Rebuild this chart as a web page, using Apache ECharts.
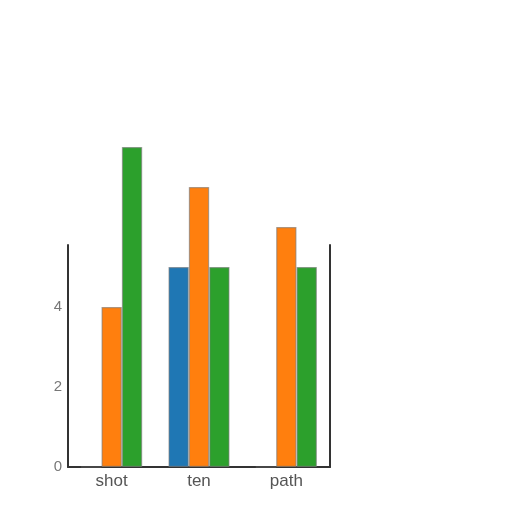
<!DOCTYPE html>
<html><head><meta charset="utf-8">
<script src="https://cdn.jsdelivr.net/npm/echarts@6/dist/echarts.min.js"></script>
<style>html,body{margin:0;padding:0;background:#fff}#c{width:512px;height:512px}</style>
</head><body><div id="c"></div>
<script>
var categories = ['shot', 'ten', 'path'];
var blueValues = [0, 5, 0];
var orangeValues = [4, 7, 6];
var greenValues = [8, 5, 5];
var yTicks = [0, 2, 4];

var chart = echarts.init(document.getElementById('c'));
function bar(name, data, color) {
  return {
    name: name, type: 'bar', data: data, clip: false,
    barGap: '0%', barCategoryGap: '30%',
    itemStyle: { color: color, borderColor: 'rgba(120,120,120,0.6)', borderWidth: 1.2 }
  };
}
chart.setOption({
  animation: false,
  grid: { left: 68, right: 182, top: 245, bottom: 45 },
  xAxis: {
    type: 'category', data: categories,
    axisLine: { lineStyle: { color: '#333', width: 2 } },
    axisTick: { show: false },
    axisLabel: { color: '#555', fontSize: 17, fontFamily: 'Liberation Sans', margin: 6 }
  },
  yAxis: [{
    type: 'value', min: 0, max: 5.55, interval: 2,
    axisLine: { show: true, lineStyle: { color: '#333', width: 2 } },
    axisTick: { show: false },
    splitLine: { show: false },
    axisLabel: { color: '#777', fontSize: 15, fontFamily: 'Liberation Sans', margin: 6, showMaxLabel: false,
      formatter: function (v) { return yTicks.indexOf(v) >= 0 ? String(v) : ''; } }
  }, {
    type: 'value', min: 0, max: 5.55, interval: 2, position: 'right',
    axisLine: { show: true, lineStyle: { color: '#333', width: 2 } },
    axisTick: { show: false }, splitLine: { show: false }, axisLabel: { show: false }
  }],
  series: [
    bar('blue', blueValues, '#1f77b4'),
    bar('orange', orangeValues, '#ff7f0e'),
    bar('green', greenValues, '#2ca02c')
  ]
});
</script></body></html>
